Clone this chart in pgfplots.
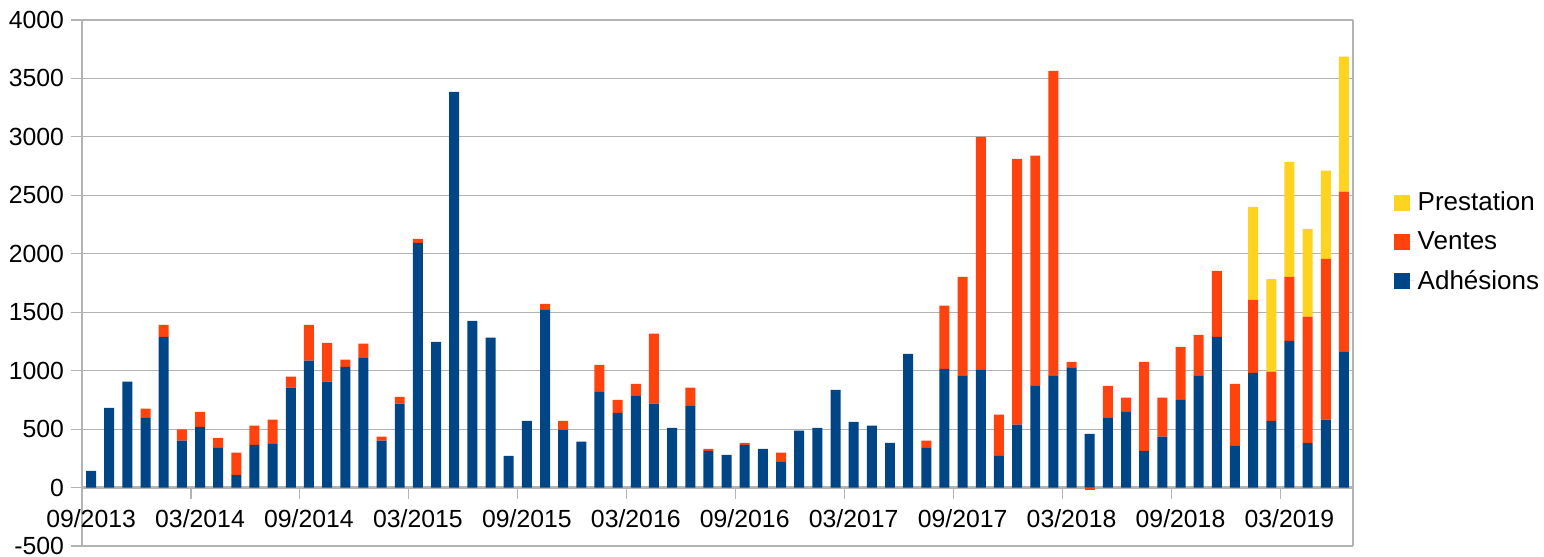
\documentclass[border=0pt]{standalone}
\usepackage{fontspec}
\setmainfont{Liberation Sans}
\usepackage{pgfplots}
\usepackage{pgfplotstable}
\pgfplotsset{compat=1.18}
\definecolor{cAdh}{HTML}{004586}
\definecolor{cVen}{HTML}{FF420E}
\definecolor{cPre}{HTML}{FFD320}
\definecolor{cGrid}{HTML}{B3B3B3}
\pgfplotstableread{
idx adh ven pre
0 143 0 0
1 681 0 0
2 906 0 0
3 596 79 0
4 1289 103 0
5 401 97 0
6 520 127 0
7 340 86 0
8 109 189 0
9 365 164 0
10 374 207 0
11 854 94 0
12 1085 307 0
13 906 331 0
14 1033 61 0
15 1109 122 0
16 401 34 0
17 717 58 0
18 2094 34 0
19 1246 0 0
20 3386 0 0
21 1426 0 0
22 1283 0 0
23 271 0 0
24 571 0 0
25 1520 51 0
26 495 76 0
27 392 0 0
28 818 231 0
29 638 113 0
30 784 104 0
31 717 599 0
32 511 0 0
33 699 155 0
34 313 18 0
35 280 0 0
36 365 18 0
37 331 0 0
38 219 79 0
39 486 0 0
40 511 0 0
41 836 0 0
42 562 0 0
43 529 0 0
44 383 0 0
45 1143 0 0
46 340 61 0
47 1015 541 0
48 960 842 0
49 1006 1994 0
50 271 352 0
51 538 2274 0
52 869 1970 0
53 960 2605 0
54 1024 52 0
55 459 0 0
56 596 273 0
57 647 122 0
58 313 763 0
59 435 334 0
60 751 453 0
61 960 347 0
62 1289 565 0
63 356 532 0
64 982 623 796
65 571 420 793
66 1255 547 985
67 383 1079 751
68 581 1376 754
69 1161 1371 1155
}\datatable
\pgfplotstableread{
idx ven
55 -20
}\negtable
\begin{document}
\begin{tikzpicture}[font=\fontsize{12.4pt}{15pt}\selectfont]
\pgfplotsset{
  common/.style={
    scale only axis, width=635.5pt, height=263pt,
    xmin=-0.5, xmax=69.5, ymin=-500, ymax=4000,
    at={(0,0)}, anchor=south west,
  }
}
\begin{axis}[common,
  ybar stacked, bar width=0.55,
  axis x line=middle, axis y line=box,
  hide obscured x ticks=false, hide obscured y ticks=false,
  every inner x axis line/.append style={-, draw=cGrid, line width=1.1pt},
  every outer y axis line/.append style={-, draw=cGrid, line width=0.7pt},
  axis line style={-},
  ytick={-500,0,...,4000},
  ytick pos=left,
  ymajorgrids, major grid style={draw=cGrid, line width=0.6pt},
  tick align=outside,
  major tick length=5.5pt, minor tick length=5.5pt,
  every tick/.append style={draw=cGrid, line width=0.6pt},
  every major x tick/.append style={draw=none},
  xtick={0,6,...,66},
  xticklabels={09/2013,03/2014,09/2014,03/2015,09/2015,03/2016,09/2016,03/2017,09/2017,03/2018,09/2018,03/2019},
  xticklabel style={yshift=-2pt},
  minor xtick={-0.5,5.5,...,65.5},
  /pgf/number format/assume math mode=true,
  /pgf/number format/1000 sep={},
  tick label style={font=\fontsize{12.4pt}{15pt}\selectfont},
  legend style={draw=none, fill=none, at={(1.027,0.578)}, anchor=west,
    font=\fontsize{13pt}{15pt}\selectfont, row sep=5.8pt,
    nodes={inner sep=1.5pt}},
  legend cell align=left,
  reverse legend,
  legend image code/.code={\fill[#1] (0pt,-4pt) rectangle (8pt,4pt); \path (0pt,0pt) -- (10.5pt,0pt);},
]
\addplot[fill=cAdh, draw=none] table[x=idx, y=adh] {\datatable};
\addlegendentry{Adhésions}
\addplot[fill=cVen, draw=none] table[x=idx, y=ven] {\datatable};
\addlegendentry{Ventes}
\addplot[fill=cPre, draw=none] table[x=idx, y=pre] {\datatable};
\addlegendentry{Prestation}
\end{axis}
\begin{axis}[common, hide axis, ybar, bar width=0.55]
\addplot[fill=cVen, draw=none] table[x=idx, y=ven] {\negtable};
\end{axis}
\pgfresetboundingbox
\path (-41pt,-5.5pt) rectangle (731pt,273pt);
\end{tikzpicture}
\end{document}
